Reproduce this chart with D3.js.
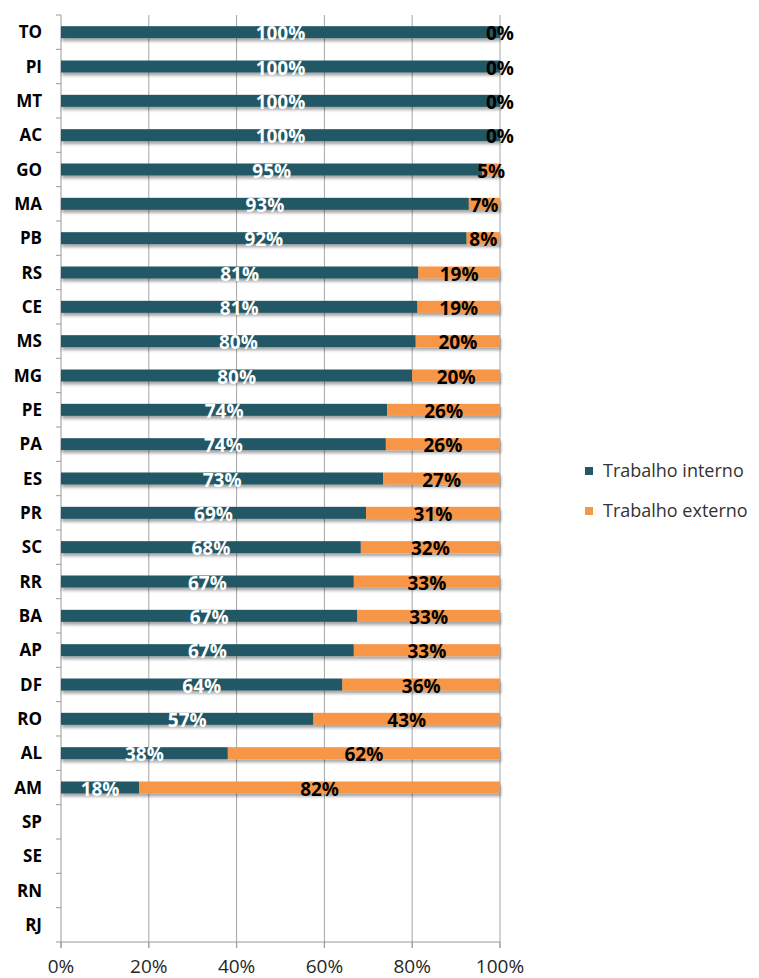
<!DOCTYPE html>
<html>
<head>
<meta charset="utf-8">
<script src="https://cdn.jsdelivr.net/npm/d3@7"></script>
<style>
  body { margin: 0; background: #fff; }
  text { font-family: "Open Sans", sans-serif; }
</style>
</head>
<body>
<div id="chart"></div>
<script>
// estados, de cima para baixo
const states = ["TO","PI","MT","AC","GO","MA","PB","RS","CE","MS","MG","PE","PA","ES","PR","SC","RR","BA","AP","DF","RO","AL","AM","SP","SE","RN","RJ"]
// participação do trabalho interno (%); null = sem dado
const interno = [100,100,100,100,96,92.9,92.4,81.4,81.2,80.8,80,74.3,74,73.4,69.5,68.3,66.7,67.5,66.7,64.1,57.5,38,17.8,null,null,null,null]
// rótulos impressos no gráfico
const labelInterno = ["100%","100%","100%","100%","95%","93%","92%","81%","81%","80%","80%","74%","74%","73%","69%","68%","67%","67%","67%","64%","57%","38%","18%",null,null,null,null]
const labelExterno = ["0%","0%","0%","0%","5%","7%","8%","19%","19%","20%","20%","26%","26%","27%","31%","32%","33%","33%","33%","36%","43%","62%","82%",null,null,null,null]
const xTicks = [0,20,40,60,80,100]
const seriesNames = ["Trabalho interno","Trabalho externo"]
const colors = ["#245866","#F79646"]

const W = 759, H = 978
const m = {top: 15, left: 61, right: 259, bottom: 36}

const svg = d3.select("#chart").append("svg")
  .attr("width", W).attr("height", H)

const defs = svg.append("defs")
defs.append("filter").attr("id", "shadow")
  .attr("x", "-5%").attr("y", "-50%").attr("width", "110%").attr("height", "220%")
  .append("feDropShadow")
  .attr("dx", 1).attr("dy", 3).attr("stdDeviation", 1.5)
  .attr("flood-color", "#000").attr("flood-opacity", 0.35)

const x = d3.scaleLinear().domain([0,100]).range([m.left, W - m.right])
const y = d3.scaleBand().domain(states).range([m.top, H - m.bottom]).paddingInner(0.65).paddingOuter(0.325)

const rows = states.map((s,i) => ({state: s, int: interno[i], li: labelInterno[i], le: labelExterno[i]}))
  .filter(d => d.int != null)

// grade vertical
svg.append("g").selectAll("line").data(xTicks.slice(1)).enter().append("line")
  .attr("x1", d => x(d)).attr("x2", d => x(d))
  .attr("y1", m.top).attr("y2", H - m.bottom + 6)
  .attr("stroke", "#a6a6a6").attr("stroke-width", 1)

// eixo y
const yAxis = svg.append("g").attr("transform", `translate(${m.left},0)`)
yAxis.append("line").attr("x1", 0).attr("x2", 0).attr("y1", m.top).attr("y2", H - m.bottom + 6)
  .attr("stroke", "#999")
const bounds = d3.range(states.length + 1).map(i => m.top + i * y.step())
yAxis.selectAll("line.tk").data(bounds).enter().append("line").attr("class", "tk")
  .attr("x1", -5).attr("x2", 0).attr("y1", d => d).attr("y2", d => d)
  .attr("stroke", "#999")
yAxis.selectAll("text").data(states).enter().append("text")
  .attr("x", -19).attr("y", d => y(d) + y.bandwidth() / 2 + 6)
  .attr("text-anchor", "end").attr("font-size", 17).attr("font-weight", "bold")
  .attr("fill", "#000").text(d => d)

// eixo x
const xAxis = svg.append("g").attr("transform", `translate(0,${H - m.bottom})`)
xAxis.append("line").attr("x1", m.left).attr("x2", x(100)).attr("stroke", "#999")
xAxis.selectAll("line.tk").data(xTicks).enter().append("line").attr("class", "tk")
  .attr("x1", d => x(d)).attr("x2", d => x(d)).attr("y1", 0).attr("y2", 6).attr("stroke", "#999")
xAxis.selectAll("text").data(xTicks).enter().append("text")
  .attr("x", d => x(d)).attr("y", 31)
  .attr("text-anchor", "middle").attr("font-size", 19).attr("fill", "#262626")
  .text(d => d + "%")

// barras
const bars = svg.append("g").attr("filter", "url(#shadow)")
bars.selectAll("rect.int").data(rows).enter().append("rect").attr("class", "int")
  .attr("x", x(0)).attr("y", d => y(d.state))
  .attr("width", d => x(d.int) - x(0)).attr("height", y.bandwidth())
  .attr("fill", colors[0])
bars.selectAll("rect.ext").data(rows).enter().append("rect").attr("class", "ext")
  .attr("x", d => x(d.int)).attr("y", d => y(d.state))
  .attr("width", d => x(100) - x(d.int)).attr("height", y.bandwidth())
  .attr("fill", colors[1])

// rótulos
const lbl = svg.append("g").attr("font-size", 19).attr("font-weight", "bold").attr("text-anchor", "middle")
lbl.selectAll("text.li").data(rows).enter().append("text").attr("class", "li")
  .attr("x", d => (x(0) + x(d.int)) / 2).attr("y", d => y(d.state) + y.bandwidth() / 2 + 8)
  .attr("fill", "#fff").text(d => d.li)
lbl.selectAll("text.le").data(rows).enter().append("text").attr("class", "le")
  .attr("x", d => (x(d.int) + x(100)) / 2).attr("y", d => y(d.state) + y.bandwidth() / 2 + 8)
  .attr("fill", "#000").text(d => d.le)

// legenda
const leg = svg.append("g").selectAll("g").data(seriesNames).enter().append("g")
  .attr("transform", (d,i) => `translate(585,${467 + i * 40})`)
leg.append("rect").attr("width", 8).attr("height", 8).attr("fill", (d,i) => colors[i])
leg.append("text").attr("x", 18).attr("y", 10).attr("font-size", 18).attr("fill", "#333").text(d => d)
</script>
</body>
</html>
